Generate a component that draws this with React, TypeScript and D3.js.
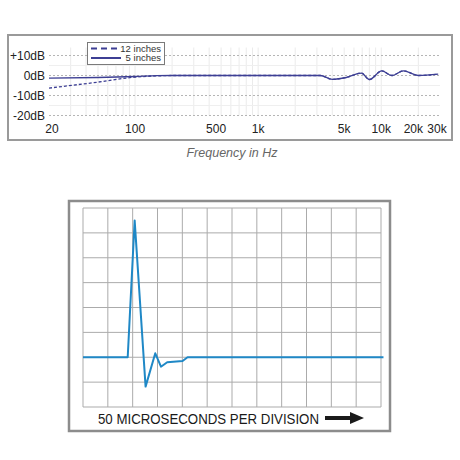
import React from 'react';
import * as d3 from 'd3';

// frequency response (Hz, dB)
const freq5 = [20, 50, 100, 150, 200, 500, 1000, 2000, 3200, 4000, 5200, 6900, 8000, 10100, 12200, 15100, 20000, 29000];
const db5 = [-1.3, -1.0, -0.5, -0.1, 0, 0, 0, 0, 0, -1.9, -1.0, 1.2, -2.0, 2.3, 0, 2.3, 0, 0.7];
const freq12 = [20, 50, 100, 150, 200, 500, 1000, 2000, 3200, 4000, 5200, 6900, 8000, 10100, 12200, 15100, 20000, 29000];
const db12 = [-6.3, -3.3, -0.8, -0.2, 0, 0, 0, 0, 0, -1.9, -1.0, 1.2, -2.0, 2.3, 0, 2.3, 0, 0.7];

const dbTicks = [10, 0, -10, -20];
const dbLabels = ['+10dB', '0dB', '-10dB', '-20dB'];
const dbMinor = [5, -5, -15];
const freqTicks = [20, 100, 500, 1000, 5000, 10000, 20000, 30000];
const freqLabels = ['20', '100', '500', '1k', '5k', '10k', '20k', '30k'];
const freqGrid = [
  30, 40, 50, 60, 70, 80, 90, 100, 200, 300, 400, 500, 600, 700, 800, 900, 1000,
  2000, 3000, 4000, 5000, 6000, 7000, 8000, 9000, 10000, 20000,
];

// impulse response, in grid divisions (x: time, y: amplitude)
const impT = [0, 1.8, 2.08, 2.52, 2.91, 3.14, 3.39, 4.01, 4.21, 12.1];
const impV = [2, 2, 7.5, 0.82, 2.16, 1.62, 1.8, 1.85, 2, 2];
const xDivs = 12;
const yDivs = 8;

const SANS = '"Liberation Sans", Arial, Helvetica, sans-serif';
const navy = '#3d3f94';
const blue = '#1f88c6';

export default function App() {
  const x = d3.scaleLog().domain([20, 30000]).range([49, 440]);
  const y = d3.scaleLinear().domain([-20, 10]).range([115.5, 55.5]);

  const line5 = d3
    .line<number>()
    .x((_, i) => x(freq5[i]))
    .y((d) => y(d))
    .curve(d3.curveMonotoneX);
  const line12 = d3
    .line<number>()
    .x((_, i) => x(freq12[i]))
    .y((d) => y(d))
    .curve(d3.curveMonotoneX);

  const tx = d3.scaleLinear().domain([0, xDivs]).range([83, 381]);
  const ty = d3.scaleLinear().domain([0, yDivs]).range([407, 208]);
  const impLine = d3
    .line<number>()
    .x((_, i) => tx(impT[i]))
    .y((d) => ty(d));

  // small nudges so the crowded labels sit like in the original
  const labelNudge: Record<string, number> = { '20': 3, '500': -5, '20k': -5, '30k': -3 };

  return (
    <svg
      width={460}
      height={460}
      style={{ position: 'absolute', left: 0, top: 0, background: '#fff' }}
      fontFamily={SANS}
    >
      {/* ---- frequency response panel ---- */}
      <rect x={8} y={35} width={444} height={105} fill="#fff" stroke="#9a9a9a" strokeWidth={2} />

      {freqGrid.map((f) => (
        <line key={'v' + f} x1={x(f)} x2={x(f)} y1={y(10) - 8} y2={y(-20)} stroke="#ebebeb" strokeWidth={1} />
      ))}
      {dbMinor.map((d) => (
        <line key={'m' + d} x1={x(20)} x2={x(30000)} y1={y(d)} y2={y(d)} stroke="#efefef" strokeWidth={1} />
      ))}
      {dbTicks.map((d) => (
        <line
          key={'h' + d}
          x1={x(20)}
          x2={x(30000)}
          y1={y(d)}
          y2={y(d)}
          stroke="#b5b5b5"
          strokeWidth={1}
          strokeDasharray="2,2"
        />
      ))}

      {dbTicks.map((d, i) => (
        <text key={'dl' + d} x={45} y={y(d) + 4.5} fontSize={12} textAnchor="end" fill="#222">
          {dbLabels[i]}
        </text>
      ))}
      {freqTicks.map((f, i) => (
        <text
          key={'fl' + f}
          x={x(f) + (labelNudge[freqLabels[i]] || 0)}
          y={133}
          fontSize={12}
          textAnchor="middle"
          fill="#222"
        >
          {freqLabels[i]}
        </text>
      ))}

      <path d={line12(db12) || ''} fill="none" stroke={navy} strokeWidth={1.3} strokeDasharray="3,2" />
      <path d={line5(db5) || ''} fill="none" stroke={navy} strokeWidth={1.3} />

      {/* legend */}
      <rect x={87.5} y={42.5} width={77} height={22} fill="#fff" stroke="#7a7a7a" strokeWidth={1} />
      <line x1={91} x2={121} y1={48.5} y2={48.5} stroke={navy} strokeWidth={2} strokeDasharray="6,4" />
      <line x1={91} x2={121} y1={58} y2={58} stroke={navy} strokeWidth={2} />
      <text x={161} y={51.5} fontSize={9.5} textAnchor="end" fill="#333">12 inches</text>
      <text x={161} y={61} fontSize={9.5} textAnchor="end" fill="#333">5 inches</text>

      <text x={232} y={157} fontSize={12.5} fontStyle="italic" textAnchor="middle" fill="#666">
        Frequency in Hz
      </text>

      {/* ---- impulse response panel ---- */}
      <rect x={69} y={201} width={321} height={230} fill="#fff" stroke="#8c8c8c" strokeWidth={2.5} />

      {d3.range(xDivs + 1).map((i) => (
        <line key={'gx' + i} x1={tx(i)} x2={tx(i)} y1={ty(0)} y2={ty(yDivs)} stroke="#ababab" strokeWidth={1} />
      ))}
      {d3.range(yDivs + 1).map((i) => (
        <line key={'gy' + i} x1={tx(0)} x2={tx(xDivs)} y1={ty(i)} y2={ty(i)} stroke="#ababab" strokeWidth={1} />
      ))}

      <path d={impLine(impV) || ''} fill="none" stroke={blue} strokeWidth={2} strokeLinejoin="round" />

      <text
        x={98}
        y={423.5}
        fontSize={14.5}
        fill="#1a1a1a"
        textLength={221}
        lengthAdjust="spacingAndGlyphs"
      >
        50 MICROSECONDS PER DIVISION
      </text>
      <rect x={325} y={416} width={26} height={4} fill="#1a1a1a" />
      <path d="M350,412 L364,418 L350,424 Z" fill="#1a1a1a" />
    </svg>
  );
}
